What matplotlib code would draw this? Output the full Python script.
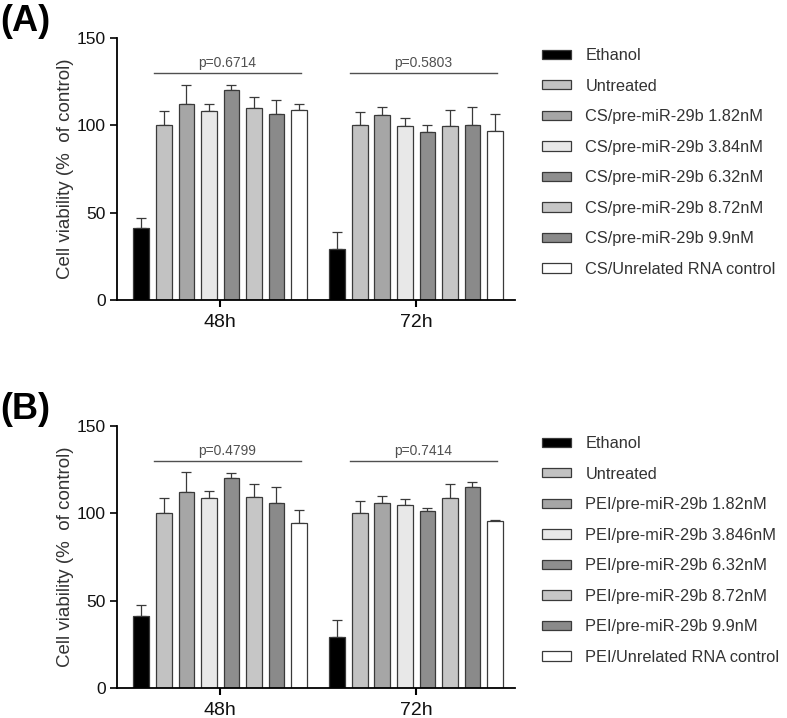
import numpy as np
import matplotlib
matplotlib.use("Agg")
import matplotlib.pyplot as plt

plt.rcParams["font.family"] = ["Liberation Sans", "DejaVu Sans"]

groups = ["48h", "72h"]
colors = ["#000000", "#c2c2c2", "#a6a6a6", "#e8e8e8", "#8e8e8e", "#c6c6c6", "#8a8a8a", "#ffffff"]

labels_a = ["Ethanol", "Untreated", "CS/pre-miR-29b 1.82nM", "CS/pre-miR-29b 3.84nM",
            "CS/pre-miR-29b 6.32nM", "CS/pre-miR-29b 8.72nM", "CS/pre-miR-29b 9.9nM",
            "CS/Unrelated RNA control"]
labels_b = ["Ethanol", "Untreated", "PEI/pre-miR-29b 1.82nM", "PEI/pre-miR-29b 3.846nM",
            "PEI/pre-miR-29b 6.32nM", "PEI/pre-miR-29b 8.72nM", "PEI/pre-miR-29b 9.9nM",
            "PEI/Unrelated RNA control"]

# mean values, rows = 48h, 72h
mean_a = [[41, 100, 112, 108.5, 120, 110, 106.5, 109],
          [29, 100, 106, 99.5, 96, 99.5, 100.3, 97]]
err_a = [[6, 8.5, 11, 4, 3, 6.5, 8, 3],
         [10, 7.5, 4.5, 4.5, 4, 9.5, 10, 9.5]]
pval_a = ["p=0.6714", "p=0.5803"]

mean_b = [[41, 100, 112, 108.5, 120, 109.5, 106, 94.5],
          [29, 100, 106, 104.5, 101.5, 109, 115, 95.3]]
err_b = [[6.5, 8.5, 11.5, 4, 3, 7, 9, 7.5],
         [10, 7, 4, 3.5, 1.5, 7.5, 3, 1]]
pval_b = ["p=0.4799", "p=0.7414"]

fig = plt.figure(figsize=(7.87, 7.18), dpi=100)


def draw_panel(rect, means, errs, pvals, labels, tag, leg_anchor):
    ax = fig.add_axes(rect)
    centers = np.array([0, 8.7])
    offsets = np.arange(8) - 3.5
    for g in range(2):
        for i in range(8):
            x = centers[g] + offsets[i]
            ax.bar(x, means[g][i], width=0.7, color=colors[i], edgecolor="#3a3a3a",
                   linewidth=0.9, label=labels[i] if g == 0 else None, zorder=2)
            ax.errorbar(x, means[g][i], yerr=[[0], [errs[g][i]]], fmt="none",
                        ecolor="#3a3a3a", elinewidth=0.9, capsize=3.5, capthick=0.9, zorder=1)
        # p-value line over treated groups
        x0 = centers[g] + offsets[1] - 0.45
        x1 = centers[g] + offsets[7] + 0.1
        ax.plot([x0, x1], [130, 130], color="#505050", lw=1.0)
        ax.text((x0 + x1) / 2, 133.3, pvals[g], ha="center", va="baseline",
                fontsize=10, color="#505050")

    ax.set_xlim(-4.58, 13.1)
    ax.set_ylim(0, 150)
    ax.set_yticks([0, 50, 100, 150])
    ax.set_xticks(centers)
    ax.set_xticklabels(groups, fontsize=14, color="#111111")
    ax.tick_params(axis="y", labelsize=12.5, width=1.2, length=5, direction="out",
                   labelcolor="#111111", pad=3)
    ax.tick_params(axis="x", width=1.5, length=5, direction="out", pad=5)
    ax.spines["top"].set_visible(False)
    ax.spines["right"].set_visible(False)
    ax.spines["left"].set_linewidth(1.3)
    ax.spines["bottom"].set_linewidth(1.3)
    ax.set_ylabel("Cell viability (%  of control)", fontsize=13.5, color="#333333", labelpad=2)

    fig.text(0.0, rect[1] + rect[3] + 0.047, tag, fontsize=26, fontweight="bold", va="top")

    ax.legend(loc="upper left", bbox_to_anchor=leg_anchor, bbox_transform=fig.transFigure,
              frameon=False, fontsize=11.8, handlelength=1.75, handleheight=0.5,
              handletextpad=0.9, labelspacing=0.95, borderpad=0, borderaxespad=0,
              labelcolor="#333333")
    return ax


draw_panel([0.1487, 0.582, 0.506, 0.365], mean_a, err_a, pval_a, labels_a, "(A)",
           (542 / 787, 1 - 48 / 718))
draw_panel([0.1487, 0.0418, 0.506, 0.365], mean_b, err_b, pval_b, labels_b, "(B)",
           (542 / 787, 1 - 436 / 718))

fig.savefig("out.png", dpi=100)
